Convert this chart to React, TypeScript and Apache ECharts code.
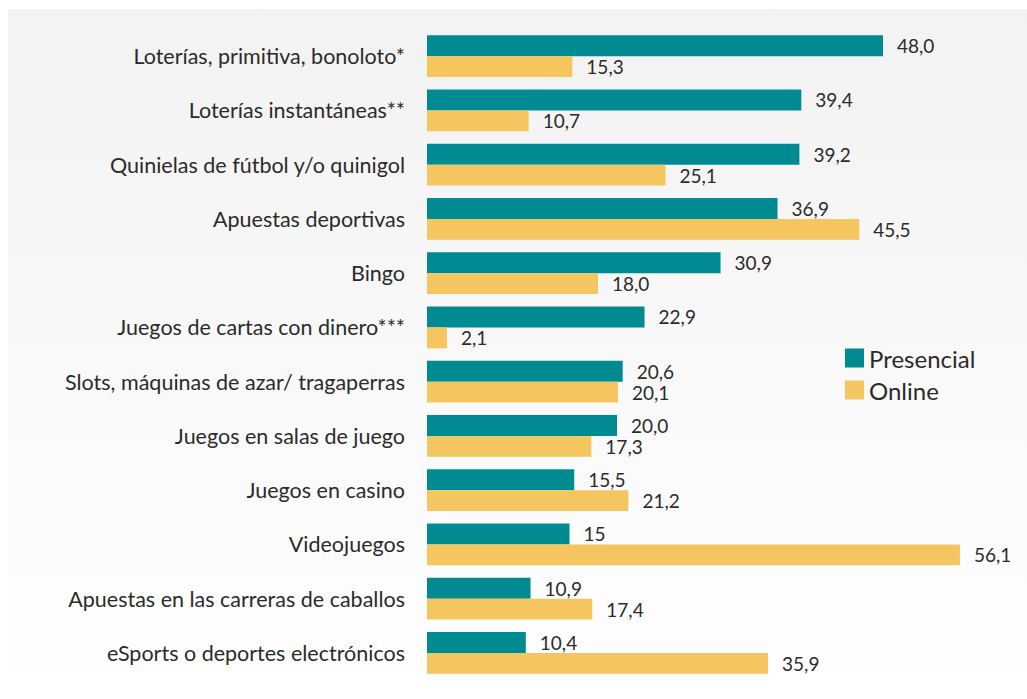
import React, { useEffect, useRef } from "react";
import * as echarts from "echarts";

const categories = [
  "Loterías, primitiva, bonoloto*",
  "Loterías instantáneas**",
  "Quinielas de fútbol y/o quinigol",
  "Apuestas deportivas",
  "Bingo",
  "Juegos de cartas con dinero***",
  "Slots, máquinas de azar/ tragaperras",
  "Juegos en salas de juego",
  "Juegos en casino",
  "Videojuegos",
  "Apuestas en las carreras de caballos",
  "eSports o deportes electrónicos",
];
const presencial = [48.0, 39.4, 39.2, 36.9, 30.9, 22.9, 20.6, 20.0, 15.5, 15, 10.9, 10.4];
const presencialText = ["48,0", "39,4", "39,2", "36,9", "30,9", "22,9", "20,6", "20,0", "15,5", "15", "10,9", "10,4"];
const online = [15.3, 10.7, 25.1, 45.5, 18.0, 2.1, 20.1, 17.3, 21.2, 56.1, 17.4, 35.9];
const onlineText = ["15,3", "10,7", "25,1", "45,5", "18,0", "2,1", "20,1", "17,3", "21,2", "56,1", "17,4", "35,9"];

const FONT = "Lato, 'Noto Sans', sans-serif";
const TEXT = "#2b2b2b";

export default function App() {
  const ref = useRef<HTMLDivElement>(null);
  useEffect(() => {
    if (!ref.current) return;
    const chart = echarts.init(ref.current, null, { renderer: "svg" });
    chart.setOption({
      animation: false,
      backgroundColor: {
        type: "linear",
        x: 0,
        y: 0,
        x2: 0,
        y2: 1,
        colorStops: [
          { offset: 0, color: "#f2f2f2" },
          { offset: 1, color: "#ffffff" },
        ],
      },
      textStyle: { fontFamily: FONT },
      legend: {
        orient: "vertical",
        left: 837,
        top: 337,
        padding: 0,
        itemWidth: 19,
        itemHeight: 19,
        itemGap: 8,
        icon: "rect",
        textStyle: { fontSize: 24, color: TEXT, fontFamily: FONT },
        data: ["Presencial", "Online"],
      },
      grid: { left: 419, top: 20, right: 30, bottom: 19, containLabel: false },
      xAxis: {
        type: "value",
        min: 0,
        max: 60,
        show: false,
      },
      yAxis: {
        type: "category",
        inverse: true,
        data: categories,
        axisLine: { show: false },
        axisTick: { show: false },
        axisLabel: { fontSize: 21.5, color: TEXT, margin: 22, fontFamily: FONT },
      },
      series: [
        {
          name: "Presencial",
          type: "bar",
          data: presencial,
          itemStyle: { color: "#008b93" },
          barGap: "0%",
          barCategoryGap: "22.6%",
          label: {
            show: true,
            position: "right",
            distance: 14,
            fontSize: 19,
            color: TEXT,
            fontFamily: FONT,
            formatter: (p: any) => presencialText[p.dataIndex],
          },
        },
        {
          name: "Online",
          type: "bar",
          data: online,
          itemStyle: { color: "#f5c55f" },
          barGap: "0%",
          barCategoryGap: "22.6%",
          label: {
            show: true,
            position: "right",
            distance: 14,
            fontSize: 19,
            color: TEXT,
            fontFamily: FONT,
            formatter: (p: any) => onlineText[p.dataIndex],
          },
        },
      ],
    });
    return () => chart.dispose();
  }, []);
  return (
    <div
      ref={ref}
      style={{ position: "fixed", left: 8, top: 9, width: 1019, height: 690 }}
    />
  );
}
